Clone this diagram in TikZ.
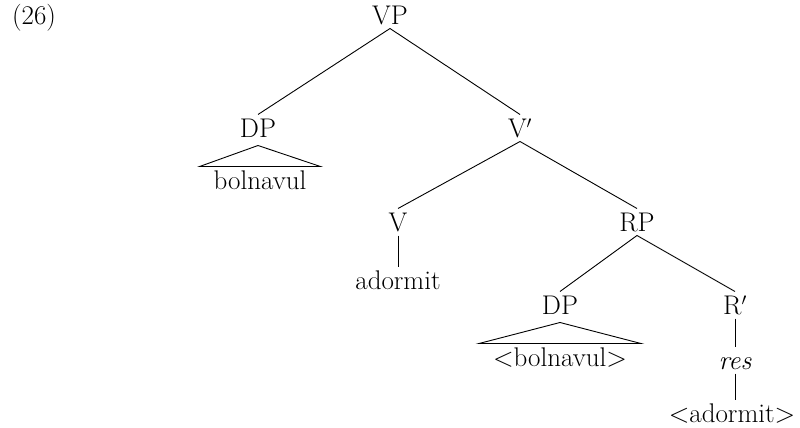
\documentclass[tikz,border=0pt]{standalone}
\begin{document}
\begin{tikzpicture}[x=1pt,y=-1pt,
  lab/.style={font=\fontsize{27}{32}\selectfont, inner sep=0pt, outer sep=4pt, text height=19pt, text depth=0pt, anchor=center},
  edge/.style={line width=0.9pt}]
\useasboundingbox (0,0) rectangle (800,428);
\node[lab] (n26) at (34,15) {(26)};
\node[lab] (VP) at (390,15) {VP};
\node[lab] (DPa) at (258,128) {DP};
\node[lab] (Vbar) at (520,128) {V$'$};
\node[lab] (bola) at (260,180) {bolnavul};
\node[lab] (V) at (398,222) {V};
\node[lab] (RP) at (637,222) {RP};
\node[lab] (ador) at (398,280) {adormit};
\node[lab] (DPb) at (560,305) {DP};
\node[lab] (Rbar) at (735,305) {R$'$};
\node[lab] (bolb) at (560,357) {<bolnavul>};
\node[lab] (res) at (735,360) {\itshape res};
\node[lab] (adorb) at (732,413) {<adormit>};
\coordinate (adtop) at (735,400);
\draw[edge] (VP.south) -- (DPa.north);
\draw[edge] (VP.south) -- (Vbar.north);
\draw[edge] ([yshift=-4pt]DPa.south) -- ([xshift=-10pt]bola.north west) -- ([xshift=10pt]bola.north east) -- cycle;
\draw[edge] (Vbar.south) -- (V.north);
\draw[edge] (Vbar.south) -- (RP.north);
\draw[edge] (V.south) -- (ador.north);
\draw[edge] (RP.south) -- (DPb.north);
\draw[edge] (RP.south) -- (Rbar.north);
\draw[edge] ([yshift=-4pt]DPb.south) -- ([xshift=-10pt]bolb.north west) -- ([xshift=10pt]bolb.north east) -- cycle;
\draw[edge] (Rbar.south) -- (res.north);
\draw[edge] (res.south) -- (adtop);
\end{tikzpicture}
\end{document}
